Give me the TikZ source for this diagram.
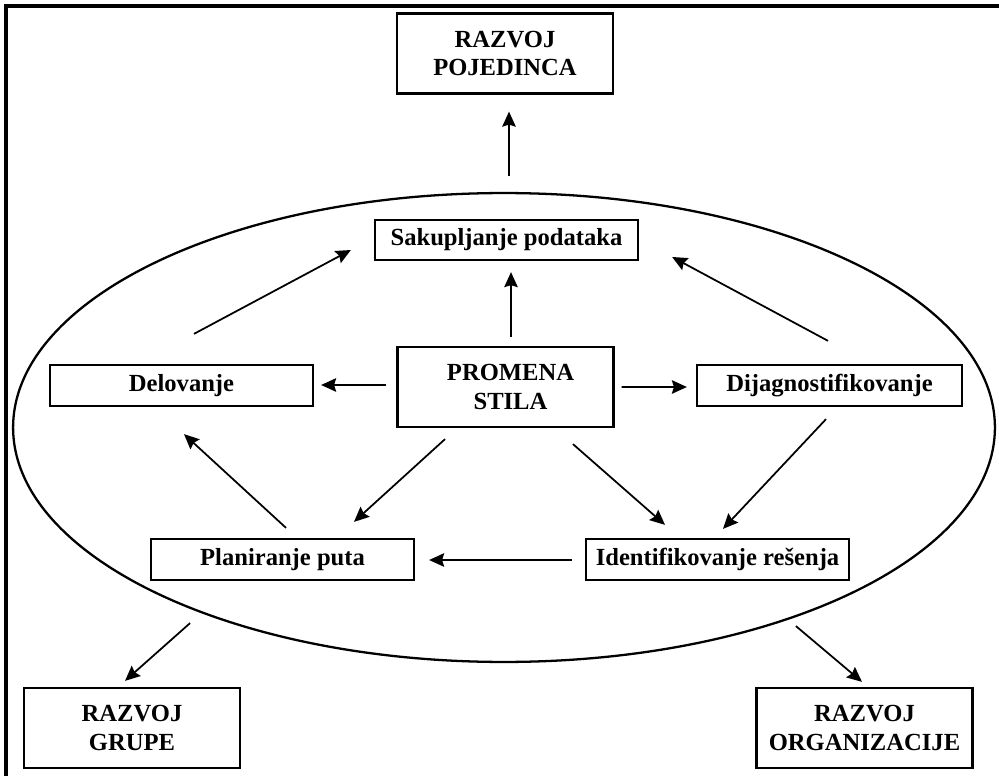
\documentclass[tikz,border=0pt]{standalone}
\usepackage{fontspec}
\setmainfont{Liberation Serif}
\usetikzlibrary{shapes.geometric, positioning, arrows.meta, calc}

\begin{document}
\begin{tikzpicture}[
        x=0.02cm, y=-0.02cm,
        >={Stealth[length=0.3cm, width=0.27cm, inset=0.04cm]},
        % boxes with bold serif text
        box/.style={draw, line width=1.3pt, inner sep=0pt, align=center,
            font=\fontsize{14}{16}\selectfont\bfseries},
        wide box/.style={box, minimum width=5.26cm, minimum height=0.82cm},
        big box/.style={box, minimum width=4.32cm, minimum height=1.6cm},
        arrow/.style={->, line width=1pt},
        frame/.style={line width=2pt}
    ]
    \useasboundingbox (0,0) rectangle (999,776);

    % --- Outer frame (only top and left edges show) ---
    \draw[frame] (6,776) -- (6,6) -- (999,6);

    % --- Ellipse round the cycle ---
    \node[ellipse, draw, line width=1.3pt, inner sep=0pt,
        minimum width=19.64cm, minimum height=9.38cm] (krug) at (504,427.5) {};

    % --- Outer boxes ---
    \node[big box] (pojedinca) at (505,53.5) {RAZVOJ\\POJEDINCA};
    \node[big box] (grupe) at (132,728) {RAZVOJ\\GRUPE};
    \node[big box] (organizacije) at (864.5,728) {RAZVOJ\\ORGANIZACIJE};

    % --- Inner boxes ---
    \node[big box] (promena) at (505.5,387) {\hspace*{0.2cm}PROMENA\\\hspace*{0.2cm}STILA};
    \node[wide box, minimum height=0.8cm] (sakupljanje) at (506.5,240) {Sakupljanje podataka};
    \node[wide box] (delovanje) at (181.5,385.5) {Delovanje};
    \node[wide box, minimum width=5.3cm] (dijag) at (829.5,385.5) {Dijagnostifikovanje};
    \node[wide box] (planiranje) at (282.5,559.5) {Planiranje puta};
    \node[wide box] (identifikovanje) at (717.5,559.5) {Identifikovanje re\v{s}enja};

    % --- Arrows out of the ellipse ---
    \draw[arrow] ([shift={(5,-15.5)}]krug.north) -- ([shift={(4,17)}]pojedinca.south);
    \draw[arrow] ([shift={(34,29)}]krug.south west) -- ([shift={(-7,-6)}]grupe.north);
    \draw[arrow] ([shift={(-56,32)}]krug.south east) -- ([shift={(-2.5,-5)}]organizacije.north);

    % --- Arrows from the centre ---
    \draw[arrow] ([shift={(5.5,-9)}]promena.north) -- ([shift={(4.5,11)}]sakupljanje.south);
    \draw[arrow] ([shift={(-10,-2)}]promena.west) -- ([shift={(7,-0.5)}]delovanje.east);
    \draw[arrow] ([shift={(7,0)}]promena.east) -- ([shift={(-9,1.5)}]dijag.west);
    \draw[arrow] ([shift={(-60.5,11)}]promena.south) -- ([shift={(71.5,-16)}]planiranje.north);
    \draw[arrow] ([shift={(67.5,16)}]promena.south) -- ([shift={(-52.5,-13)}]identifikovanje.north);

    % --- Cycle arrows ---
    \draw[arrow] ([shift={(12.5,-30)}]delovanje.north) -- ([shift={(-23,10)}]sakupljanje.west);
    \draw[arrow] ([shift={(-1.5,-23)}]dijag.north) -- ([shift={(33,17)}]sakupljanje.east);
    \draw[arrow] ([shift={(-3.5,12)}]dijag.south) -- ([shift={(5.5,-9)}]identifikovanje.north);
    \draw[arrow] ([shift={(-13,0.5)}]identifikovanje.west) -- ([shift={(14,0.5)}]planiranje.east);
    \draw[arrow] ([shift={(3.5,-10)}]planiranje.north) -- ([shift={(2.5,27)}]delovanje.south);

\end{tikzpicture}
\end{document}
